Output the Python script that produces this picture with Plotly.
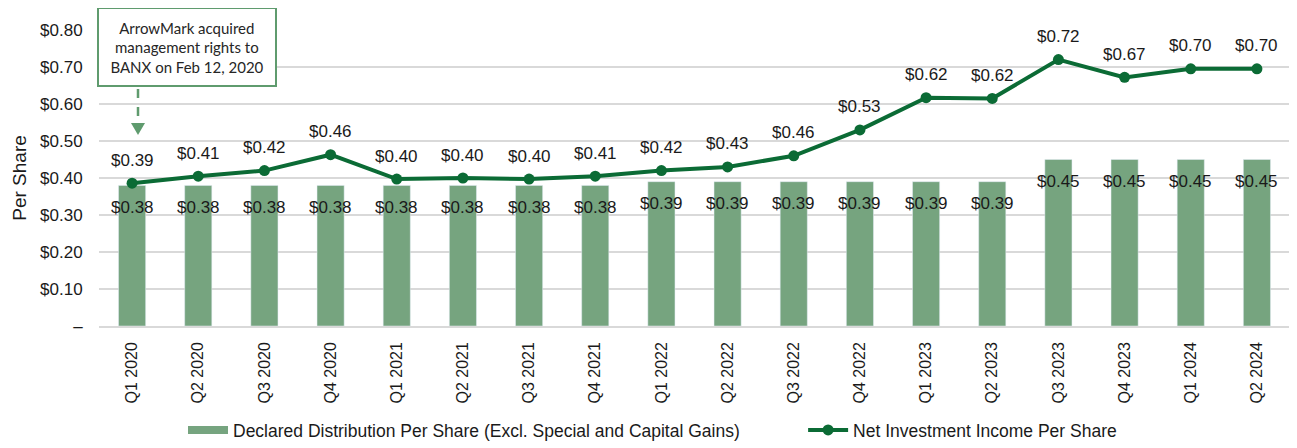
import plotly.graph_objects as go

quarters = ["Q1 2020", "Q2 2020", "Q3 2020", "Q4 2020",
            "Q1 2021", "Q2 2021", "Q3 2021", "Q4 2021",
            "Q1 2022", "Q2 2022", "Q3 2022", "Q4 2022",
            "Q1 2023", "Q2 2023", "Q3 2023", "Q4 2023",
            "Q1 2024", "Q2 2024"]

distribution = [0.38, 0.38, 0.38, 0.38, 0.38, 0.38, 0.38, 0.38,
                0.39, 0.39, 0.39, 0.39, 0.39, 0.39,
                0.45, 0.45, 0.45, 0.45]

nii = [0.386, 0.405, 0.42, 0.463, 0.397, 0.40, 0.397, 0.405,
       0.42, 0.43, 0.46, 0.53, 0.617, 0.615, 0.72, 0.672, 0.695, 0.695]
nii_labels = ["$0.39", "$0.41", "$0.42", "$0.46", "$0.40", "$0.40", "$0.40", "$0.41",
              "$0.42", "$0.43", "$0.46", "$0.53", "$0.62", "$0.62", "$0.72", "$0.67", "$0.70", "$0.70"]

y_ticks = [0, 0.1, 0.2, 0.3, 0.4, 0.5, 0.6, 0.7, 0.8]
y_ticktext = ["–", "$0.10", "$0.20", "$0.30", "$0.40", "$0.50", "$0.60", "$0.70", "$0.80"]

BAR = "#76a47f"
LINE = "#0b6b35"
TXT = "#1a1a1a"
FONT = "Liberation Sans, Arial, sans-serif"
DIST_NAME = "Declared Distribution Per Share (Excl. Special and Capital Gains)"

fig = go.Figure()
fig.add_trace(go.Bar(
    x=quarters, y=distribution, name=DIST_NAME,
    marker_color=BAR, width=0.41, showlegend=False,
))
# legend entry drawn as a wide swatch like the original (nbsp's pad the gap to the next item)
fig.add_trace(go.Scatter(
    x=[None], y=[None], name=DIST_NAME + "\u00a0" * 12, mode="lines",
    line=dict(color=BAR, width=8),
))
fig.add_trace(go.Scatter(
    x=quarters, y=nii, name="Net Investment Income Per Share",
    mode="lines+markers", line=dict(color=LINE, width=4),
    marker=dict(color=LINE, size=11),
))

# data labels
for q, v in zip(quarters, distribution):
    fig.add_annotation(x=q, y=v, text="$%.2f" % v, showarrow=False, yshift=-22,
                       font=dict(size=17, color=TXT, family=FONT))
for q, v, t in zip(quarters, nii, nii_labels):
    fig.add_annotation(x=q, y=v, text=t, showarrow=False, yshift=23,
                       font=dict(size=17, color=TXT, family=FONT))

# callout box (page is drawn with an 8px body margin, so pixel helpers use page coords)
def px(xp):
    return (xp - 99) / 1191

def py(yp):
    return (326 - yp) / 296

fig.add_annotation(xref="paper", yref="paper", x=px(187), y=py(47),
                   xanchor="center", yanchor="middle",
                   text="ArrowMark acquired<br>management rights to<br>BANX on Feb 12, 2020",
                   showarrow=False, align="center", bgcolor="white",
                   bordercolor="#5f9b6e", borderwidth=2, borderpad=9,
                   width=158, height=58,
                   font=dict(family="Lato, sans-serif", size=15, color="#262626"))
fig.add_shape(type="line", xref="paper", yref="paper",
              x0=px(138), x1=px(138), y0=py(89), y1=py(123),
              line=dict(color="#5f9b6e", width=2.5, dash="dash"))
fig.add_shape(type="path", xref="paper", yref="paper",
              path="M %f %f L %f %f L %f %f Z" % (px(131), py(123), px(145), py(123), px(138), py(135)),
              fillcolor="#5f9b6e", line=dict(width=0))

fig.update_layout(
    width=1289, height=440,
    margin=dict(l=91, r=7, t=22, b=122, autoexpand=False),
    plot_bgcolor="white", paper_bgcolor="white",
    font=dict(family=FONT, size=16, color=TXT),
    showlegend=True,
    legend=dict(orientation="h", xref="container", yref="container",
                x=0.5, xanchor="center", y=0.0, yanchor="bottom",
                font=dict(size=17.5, color=TXT), itemwidth=40),
    bargap=0.59,
)
fig.update_xaxes(type="category", range=[-0.5, 17.5], tickangle=-90,
                 tickfont=dict(size=16, color=TXT), showgrid=False,
                 showline=True, linecolor="#d9d9d9", linewidth=1.5,
                 ticks="outside", ticklen=8, tickcolor="rgba(0,0,0,0)")
fig.update_yaxes(range=[0, 0.8], tickvals=y_ticks, ticktext=y_ticktext,
                 tickfont=dict(size=17, color=TXT), showgrid=True,
                 gridcolor="#d9d9d9", gridwidth=1.5, zeroline=False,
                 ticks="outside", ticklen=12, tickcolor="rgba(0,0,0,0)",
                 title=dict(text="Per Share", font=dict(size=19, color=TXT), standoff=8))

fig.write_html("out.html")
